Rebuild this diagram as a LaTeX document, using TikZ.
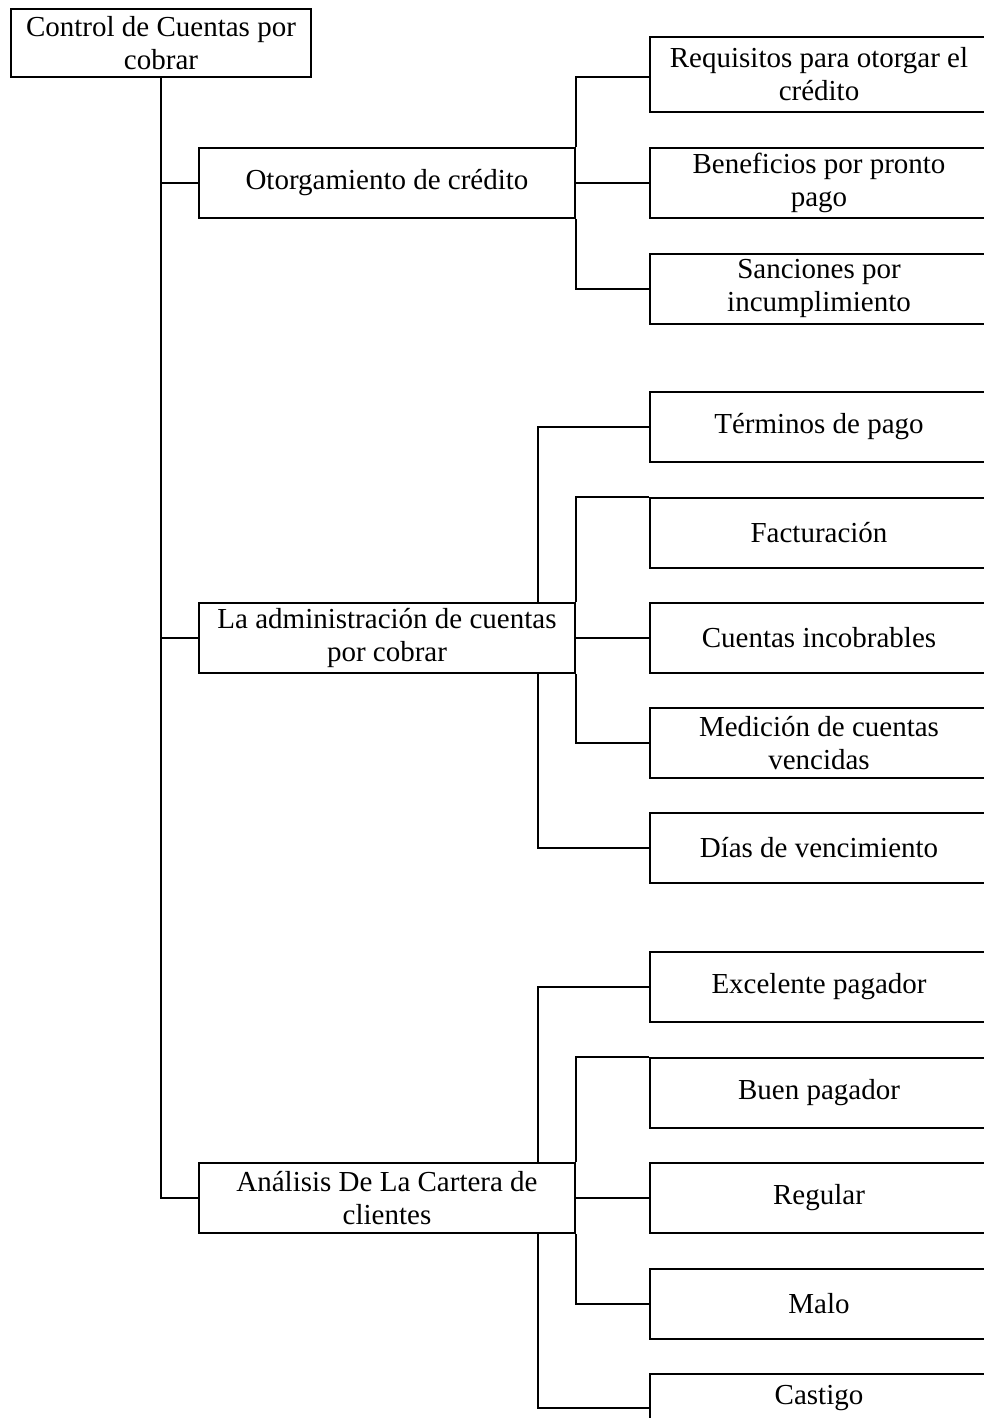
\documentclass[tikz,border=0pt]{standalone}
\usepackage{fontspec}
\setmainfont{Liberation Serif}
\usetikzlibrary{calc}
\begin{document}
\begin{tikzpicture}[x=1pt,y=-1pt,line width=2pt,
  box/.style={draw=black,rectangle,inner sep=0pt,align=center,
    font=\fontsize{29}{33}\selectfont},
  rootbox/.style={box,minimum width=300,minimum height=68},
  midbox/.style={box,minimum width=376,minimum height=70},
  leafbox/.style={box,minimum width=338,minimum height=70},
  link/.style={draw=black,line width=2pt}]
\useasboundingbox[fill=white] (0,0) rectangle (984,1418);
% root
\node[rootbox] (root) at (161,43) {Control de Cuentas por\\cobrar};
% level 1
\node[midbox] (otor) at (387,183) {Otorgamiento de crédito};
\node[midbox] (admin) at (387,638) {La administración de cuentas\\por cobrar};
\node[midbox] (anal) at (387,1198) {Análisis De La Cartera de\\clientes};
% group 1
\node[leafbox,minimum height=75] (req) at (819,74.5) {Requisitos para otorgar el\\crédito};
\node[leafbox] (ben) at (819,183) {Beneficios por pronto\\pago};
\node[leafbox] (san) at (819,288.5) {Sanciones por\\incumplimiento};
% group 2
\node[leafbox] (term) at (819,427) {Términos de pago};
\node[leafbox] (fact) at (819,532.5) {Facturación};
\node[leafbox] (cinc) at (819,638) {Cuentas incobrables};
\node[leafbox] (med) at (819,743) {Medición de cuentas\\vencidas};
\node[leafbox] (dias) at (819,848) {Días de vencimiento};
% group 3
\node[leafbox] (exc) at (819,986.5) {Excelente pagador};
\node[leafbox] (buen) at (819,1092.5) {Buen pagador};
\node[leafbox] (reg) at (819,1198) {Regular};
\node[leafbox] (malo) at (819,1303.5) {Malo};
\node[leafbox,minimum height=48] (cast) at (819,1398) {Castigo};
% trunk
\draw[link] (root.south) |- (anal.west);
\draw[link] (root.south |- otor.west) -- (otor.west);
\draw[link] (root.south |- admin.west) -- (admin.west);
% group 1 connectors
\coordinate (g1r) at ($(req.west)+(0,3)$);
\draw[link] (otor.north east) |- (g1r);
\draw[link] (otor.east) -- (ben.west);
\draw[link] (otor.south east) |- (san.west);
% group 2 connectors
\coordinate (a1) at ($(admin.north east)+(-38,0)$);
\coordinate (a2) at ($(admin.south east)+(-38,0)$);
\draw[link] (a1) |- (term.west);
\draw[link] (a2) |- (dias.west);
\draw[link] (admin.north east) |- (fact.north west);
\draw[link] (admin.east) -- (cinc.west);
\draw[link] (admin.south east) |- (med.west);
% group 3 connectors
\coordinate (b1) at ($(anal.north east)+(-38,0)$);
\coordinate (b2) at ($(anal.south east)+(-38,0)$);
\coordinate (c1) at ($(cast.west)+(0,10)$);
\draw[link] (b1) |- (exc.west);
\draw[link] (b2) |- (c1);
\draw[link] (anal.north east) |- (buen.north west);
\draw[link] (anal.east) -- (reg.west);
\draw[link] (anal.south east) |- (malo.west);
\end{tikzpicture}
\end{document}
